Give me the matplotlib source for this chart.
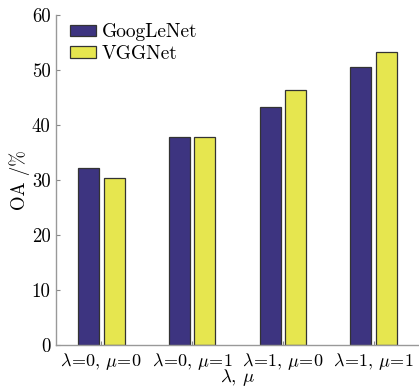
import matplotlib
matplotlib.use("Agg")
import matplotlib.pyplot as plt
import numpy as np

# overall accuracy for each loss weighting
categories = [r'$\lambda\!=\!0,\,\mu\!=\!0$', r'$\lambda\!=\!0,\,\mu\!=\!1$',
              r'$\lambda\!=\!1,\,\mu\!=\!0$', r'$\lambda\!=\!1,\,\mu\!=\!1$']
googlenet = [32.2, 37.8, 43.3, 50.5]
vggnet = [30.3, 37.8, 46.4, 53.3]
yticks = [0, 10, 20, 30, 40, 50, 60]

plt.rcParams['font.family'] = 'cmr10'
plt.rcParams['mathtext.fontset'] = 'cm'
plt.rcParams['axes.unicode_minus'] = False

fig = plt.figure(figsize=(4.19, 3.91), dpi=100)
ax = fig.add_axes([56 / 419, 1 - 345 / 391, 1 - 56 / 419, 330 / 391])

x = np.arange(1, len(categories) + 1)
w = 0.23
ax.bar(x - 0.14, googlenet, w, color='#3d3480', edgecolor='#333333',
       linewidth=0.9, label='GoogLeNet')
ax.bar(x + 0.14, vggnet, w, color='#e6e64f', edgecolor='#333333',
       linewidth=0.9, label='VGGNet')

ax.set_xlim(0.5, 4.5)
ax.set_ylim(0, 60)
ax.set_xticks(x)
ax.set_xticklabels(categories, fontsize=13)
ax.set_yticks(yticks)
ax.tick_params(axis='y', labelsize=13.5, direction='in', length=3,
               color='#888888', pad=4)
ax.tick_params(axis='x', direction='in', length=3, color='#888888', pad=4)

for s in ['top', 'right']:
    ax.spines[s].set_visible(False)
for s in ['left', 'bottom']:
    ax.spines[s].set_color('#999999')
    ax.spines[s].set_linewidth(1.0)

ax.set_ylabel('OA /%', fontsize=13.5, labelpad=1)
ax.set_xlabel(r'$\lambda,\,\mu$', fontsize=13.5, labelpad=-3)

ax.legend(loc='upper left', bbox_to_anchor=(14 / 363, 0.975), frameon=False,
          fontsize=14, handlelength=1.35, handleheight=0.55,
          handletextpad=0.27, labelspacing=0.2, borderpad=0,
          borderaxespad=0)

fig.savefig('out.png', dpi=100)
